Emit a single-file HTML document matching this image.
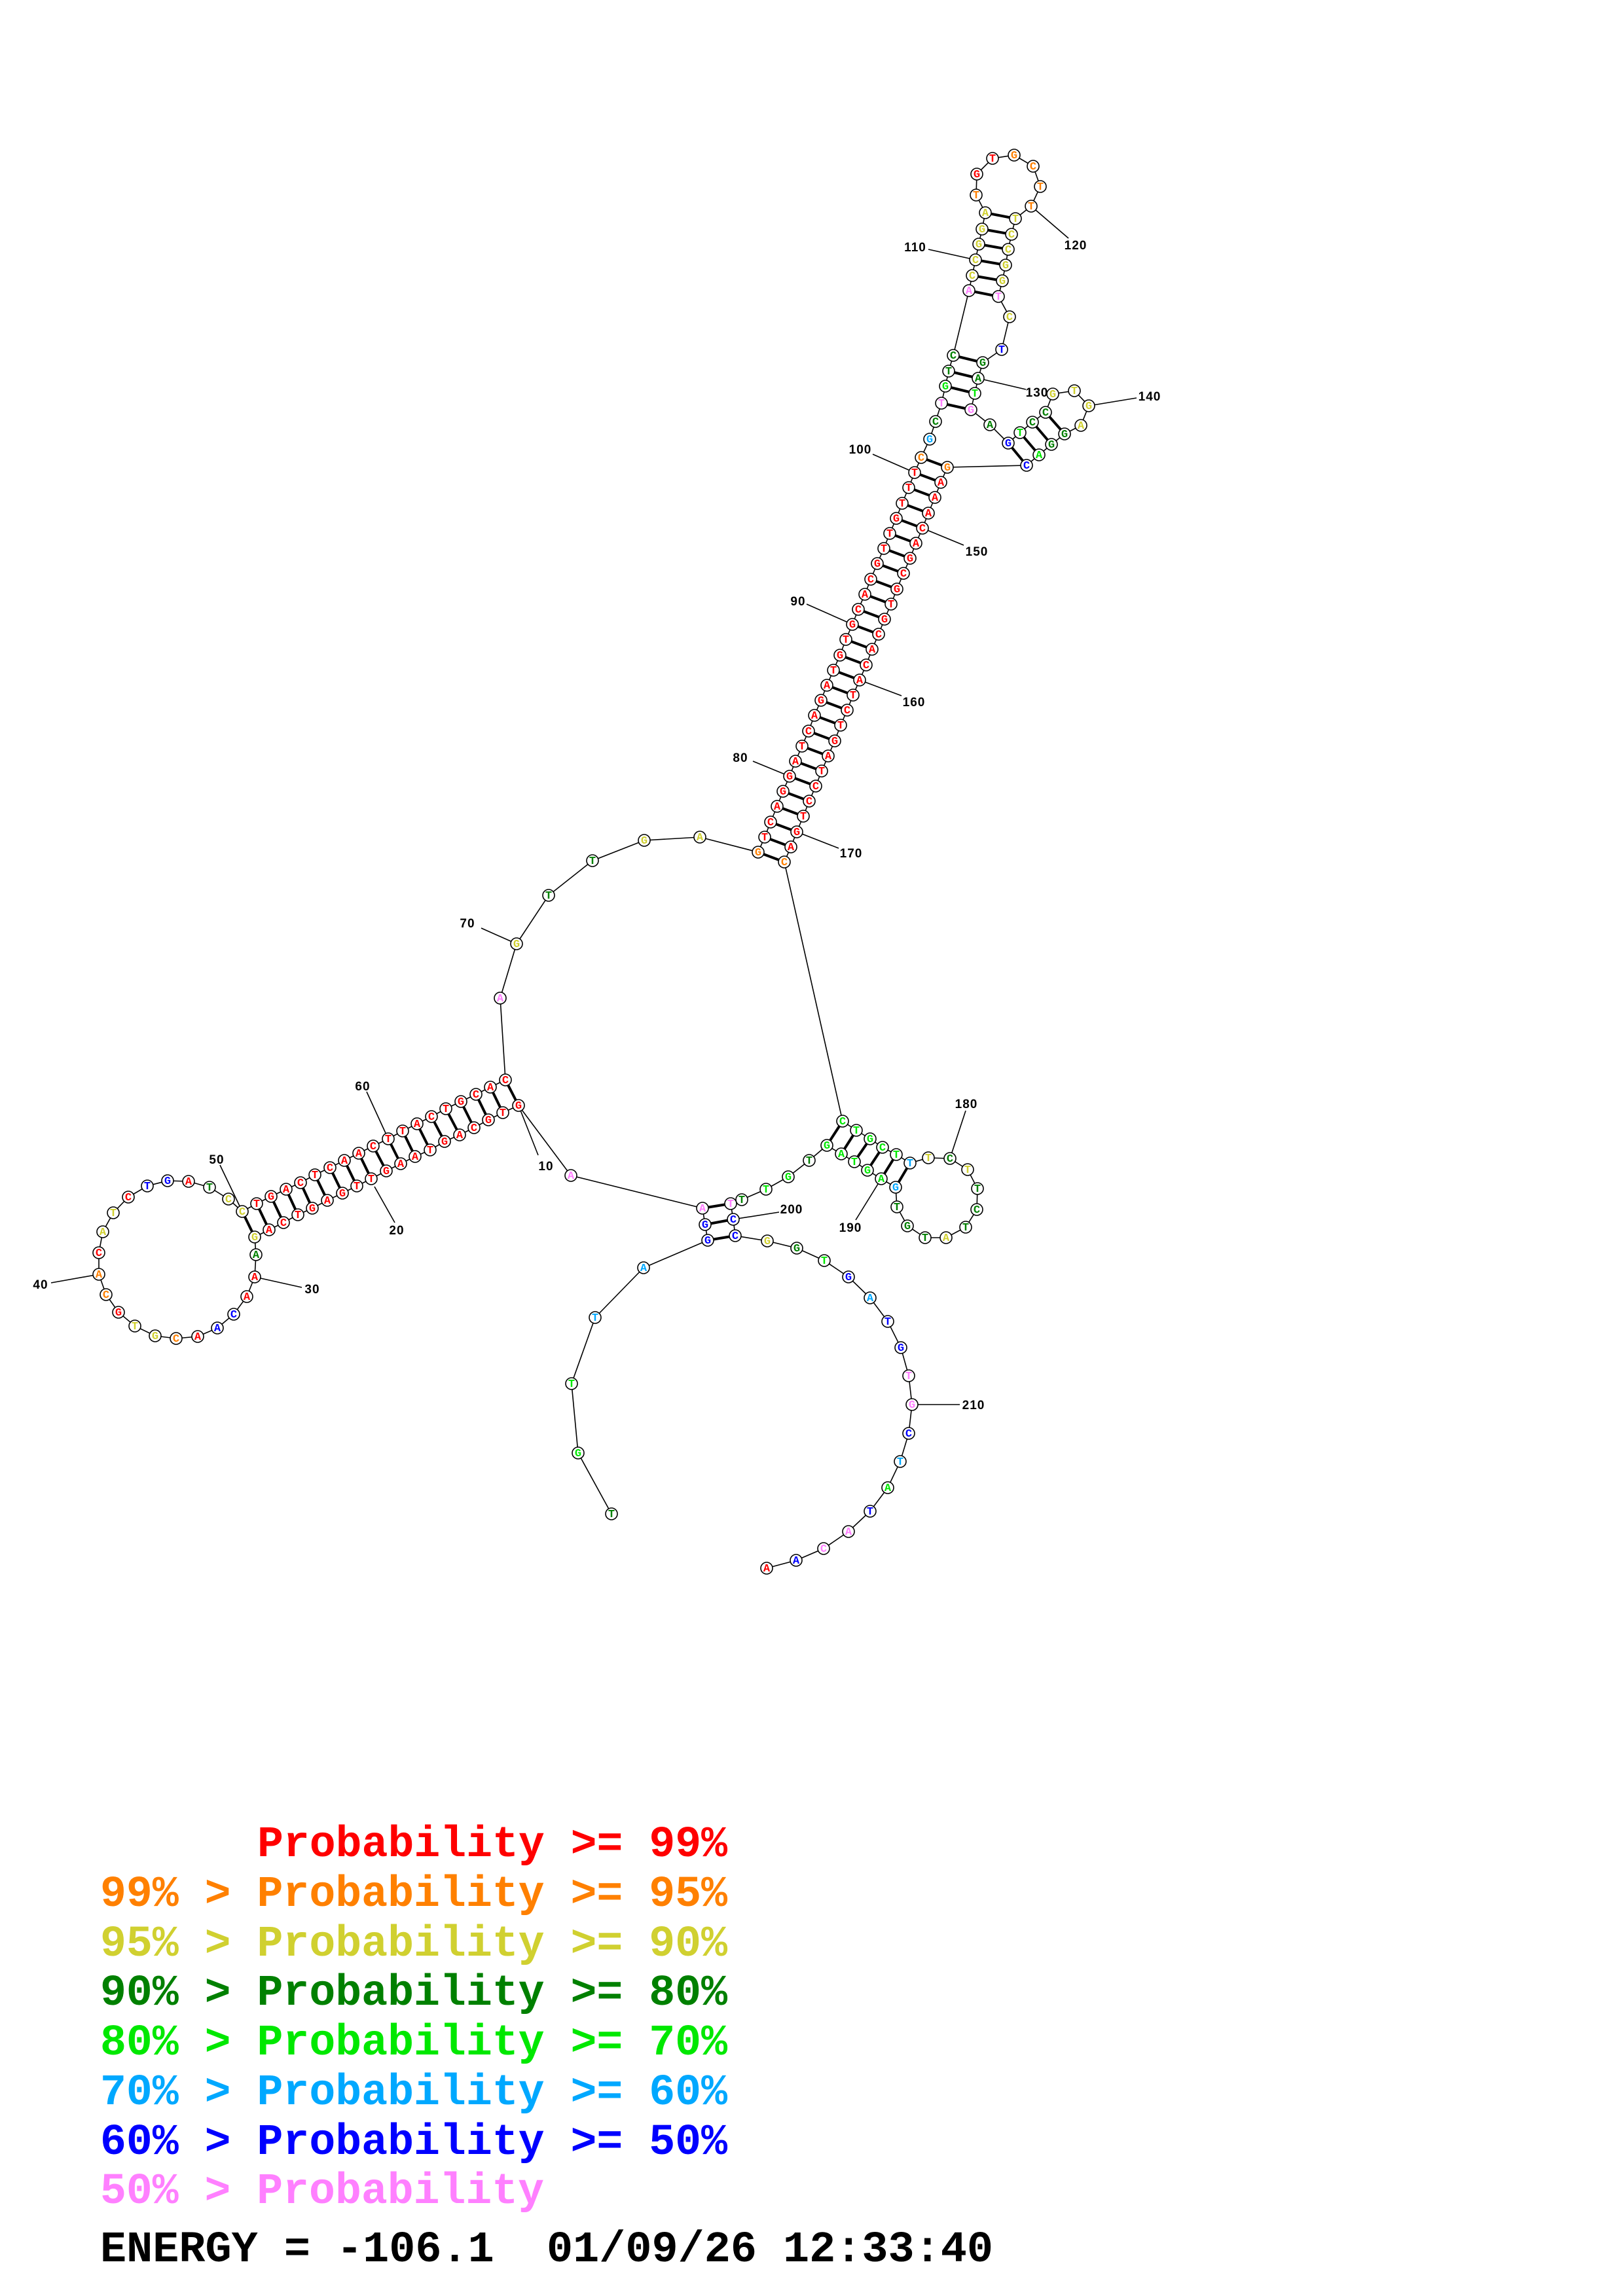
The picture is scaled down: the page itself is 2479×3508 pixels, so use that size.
<!DOCTYPE html>
<html><head><meta charset="utf-8"><style>
html,body{margin:0;padding:0;background:#fff}
svg{display:block}
circle{fill:#fff;stroke:#000;stroke-width:1.6}
.n text{font-family:"Liberation Mono",monospace;font-weight:bold;font-size:17px;text-anchor:middle}
.r{fill:#ff0000}.o{fill:#ff8000}.y{fill:#d0d030}.g{fill:#008000}.l{fill:#00e800}.c{fill:#00a8ff}.b{fill:#0000ff}.p{fill:#ff80ff}
.lab{font-family:"Liberation Sans",sans-serif;font-weight:bold;font-size:19px;text-anchor:middle;letter-spacing:1px}
.leg{font-family:"Liberation Mono",monospace;font-weight:bold;font-size:67px}
</style></head><body>
<svg width="2479" height="3508" viewBox="0 0 2479 3508" xmlns="http://www.w3.org/2000/svg">
<rect width="2479" height="3508" fill="#fff"/>
<polyline fill="none" stroke="#000" stroke-width="1.6" points="934,2313 883,2220 873,2114 909,2013 983,1937 1081,1895 1077,1871 1073,1846 872,1796 792,1689 768,1700 746,1711 724,1723 702,1734 679,1744 657,1757 634,1767 612,1778 590,1789 567,1801 545,1812 523,1823 500,1834 477,1846 455,1856 433,1868 411,1879 389,1890 391,1917 389,1951 377,1981 357,2008 332,2029 302,2042 269,2045 237,2041 206,2026 181,2005 162,1978 151,1947 151,1914 157,1882 173,1853 196,1829 225,1812 256,1804 288,1805 320,1814 349,1832 370,1851 392,1839 414,1828 437,1817 459,1807 481,1795 504,1784 526,1773 548,1762 570,1751 593,1740 615,1728 637,1717 659,1706 681,1694 704,1683 727,1672 749,1661 772,1650 764,1525 789,1442 838,1368 905,1315 984,1284 1069,1279 1158,1302 1168,1279 1177,1256 1187,1232 1196,1209 1206,1186 1215,1163 1225,1140 1235,1117 1244,1093 1254,1070 1263,1047 1273,1024 1283,1001 1292,977 1302,954 1311,931 1321,908 1330,885 1340,861 1350,838 1359,815 1369,792 1378,769 1388,745 1397,722 1407,699 1420,671 1429,644 1438,616 1444,590 1449,567 1456,543 1480,444 1485,421 1490,397 1495,373 1500,350 1505,325 1491,298 1492,266 1516,242 1549,237 1578,254 1589,285 1575,315 1551,334 1545,358 1540,381 1536,405 1531,429 1525,453 1542,484 1530,534 1501,554 1494,578 1489,601 1483,626 1512,649 1540,677 1558,661 1577,645 1597,630 1608,602 1641,597 1663,620 1651,650 1626,663 1606,679 1587,695 1568,711 1447,714 1437,737 1428,760 1418,784 1409,807 1399,830 1390,853 1380,876 1370,900 1361,923 1351,946 1342,969 1332,992 1323,1016 1313,1039 1303,1062 1294,1085 1284,1108 1275,1132 1265,1155 1255,1178 1246,1201 1236,1224 1227,1247 1217,1271 1208,1294 1198,1317 1287,1713 1308,1727 1329,1740 1348,1753 1369,1764 1390,1777 1418,1769 1451,1770 1478,1787 1493,1816 1492,1848 1475,1875 1445,1891 1413,1891 1386,1873 1370,1844 1368,1814 1346,1801 1325,1788 1305,1775 1285,1763 1263,1750 1236,1773 1204,1798 1170,1817 1133,1833 1116,1839 1120,1863 1123,1888 1172,1896 1217,1907 1259,1926 1296,1951 1329,1983 1356,2019 1376,2059 1388,2102 1393,2146 1388,2190 1375,2233 1356,2273 1329,2309 1296,2340 1258,2366 1216,2384 1171,2396"/>
<path fill="none" stroke="#000" stroke-width="4" d="M1081,1895L1123,1888M1077,1871L1120,1863M1073,1846L1116,1839
M792,1689L772,1650M768,1700L749,1661M746,1711L727,1672M724,1723L704,1683M702,1734L681,1694M679,1744L659,1706M657,1757L637,1717M634,1767L615,1728M612,1778L593,1740M590,1789L570,1751M567,1801L548,1762M545,1812L526,1773M523,1823L504,1784M500,1834L481,1795M477,1846L459,1807M455,1856L437,1817M433,1868L414,1828M411,1879L392,1839M389,1890L370,1851
M1158,1302L1198,1317M1168,1279L1208,1294M1177,1256L1217,1271M1187,1232L1227,1247M1196,1209L1236,1224M1206,1186L1246,1201M1215,1163L1255,1178M1225,1140L1265,1155M1235,1117L1275,1132M1244,1093L1284,1108M1254,1070L1294,1085M1263,1047L1303,1062M1273,1024L1313,1039M1283,1001L1323,1016M1292,977L1332,992M1302,954L1342,969M1311,931L1351,946M1321,908L1361,923M1330,885L1370,900M1340,861L1380,876M1350,838L1390,853M1359,815L1399,830M1369,792L1409,807M1378,769L1418,784M1388,745L1428,760M1397,722L1437,737M1407,699L1447,714
M1456,543L1501,554M1449,567L1494,578M1444,590L1489,601M1438,616L1483,626
M1480,444L1525,453M1485,421L1531,429M1490,397L1536,405M1495,373L1540,381M1500,350L1545,358M1505,325L1551,334
M1540,677L1568,711M1558,661L1587,695M1577,645L1606,679M1597,630L1626,663
M1287,1713L1263,1750M1308,1727L1285,1763M1329,1740L1305,1775M1348,1753L1325,1788M1369,1764L1346,1801M1390,1777L1368,1814"/>
<path fill="none" stroke="#000" stroke-width="1.6" d="M792,1689L822,1765M572,1813L603,1868M389,1951L461,1967M151,1947L78,1960M370,1851L336,1780M593,1740L560,1668M789,1442L735,1418M1206,1186L1150,1163M1302,954L1232,923M1397,722L1333,694M1490,397L1418,381M1575,315L1632,364M1494,578L1567,595M1663,620L1736,608M1409,807L1472,833M1313,1039L1377,1063M1217,1271L1281,1296M1451,1770L1475,1697M1346,1801L1307,1864M1120,1863L1190,1852M1393,2146L1466,2146"/>
<g class="lab">
<text x="834" y="1788">10</text><text x="606" y="1886">20</text><text x="477" y="1976">30</text><text x="62" y="1969">40</text><text x="331" y="1778">50</text><text x="554" y="1666">60</text><text x="714" y="1417">70</text><text x="1131" y="1164">80</text><text x="1219" y="925">90</text><text x="1314" y="693">100</text><text x="1398" y="384">110</text><text x="1643" y="381">120</text><text x="1584" y="606">130</text><text x="1756" y="612">140</text><text x="1492" y="849">150</text><text x="1396" y="1079">160</text><text x="1300" y="1310">170</text><text x="1476" y="1693">180</text><text x="1299" y="1882">190</text><text x="1209" y="1854">200</text><text x="1487" y="2153">210</text>
</g>
<g class="n">
<circle cx="934" cy="2313" r="9"/><text x="934" y="2318" class="g">T</text>
<circle cx="883" cy="2220" r="9"/><text x="883" y="2225" class="l">G</text>
<circle cx="873" cy="2114" r="9"/><text x="873" y="2119" class="l">T</text>
<circle cx="909" cy="2013" r="9"/><text x="909" y="2018" class="c">T</text>
<circle cx="983" cy="1937" r="9"/><text x="983" y="1942" class="c">A</text>
<circle cx="1081" cy="1895" r="9"/><text x="1081" y="1900" class="b">G</text>
<circle cx="1077" cy="1871" r="9"/><text x="1077" y="1876" class="b">G</text>
<circle cx="1073" cy="1846" r="9"/><text x="1073" y="1851" class="p">A</text>
<circle cx="872" cy="1796" r="9"/><text x="872" y="1801" class="p">A</text>
<circle cx="792" cy="1689" r="9"/><text x="792" y="1694" class="r">G</text>
<circle cx="768" cy="1700" r="9"/><text x="768" y="1705" class="r">T</text>
<circle cx="746" cy="1711" r="9"/><text x="746" y="1716" class="r">G</text>
<circle cx="724" cy="1723" r="9"/><text x="724" y="1728" class="r">C</text>
<circle cx="702" cy="1734" r="9"/><text x="702" y="1739" class="r">A</text>
<circle cx="679" cy="1744" r="9"/><text x="679" y="1749" class="r">G</text>
<circle cx="657" cy="1757" r="9"/><text x="657" y="1762" class="r">T</text>
<circle cx="634" cy="1767" r="9"/><text x="634" y="1772" class="r">A</text>
<circle cx="612" cy="1778" r="9"/><text x="612" y="1783" class="r">A</text>
<circle cx="590" cy="1789" r="9"/><text x="590" y="1794" class="r">G</text>
<circle cx="567" cy="1801" r="9"/><text x="567" y="1806" class="r">T</text>
<circle cx="545" cy="1812" r="9"/><text x="545" y="1817" class="r">T</text>
<circle cx="523" cy="1823" r="9"/><text x="523" y="1828" class="r">G</text>
<circle cx="500" cy="1834" r="9"/><text x="500" y="1839" class="r">A</text>
<circle cx="477" cy="1846" r="9"/><text x="477" y="1851" class="r">G</text>
<circle cx="455" cy="1856" r="9"/><text x="455" y="1861" class="r">T</text>
<circle cx="433" cy="1868" r="9"/><text x="433" y="1873" class="r">C</text>
<circle cx="411" cy="1879" r="9"/><text x="411" y="1884" class="r">A</text>
<circle cx="389" cy="1890" r="9"/><text x="389" y="1895" class="y">G</text>
<circle cx="391" cy="1917" r="9"/><text x="391" y="1922" class="g">A</text>
<circle cx="389" cy="1951" r="9"/><text x="389" y="1956" class="r">A</text>
<circle cx="377" cy="1981" r="9"/><text x="377" y="1986" class="r">A</text>
<circle cx="357" cy="2008" r="9"/><text x="357" y="2013" class="b">C</text>
<circle cx="332" cy="2029" r="9"/><text x="332" y="2034" class="b">A</text>
<circle cx="302" cy="2042" r="9"/><text x="302" y="2047" class="r">A</text>
<circle cx="269" cy="2045" r="9"/><text x="269" y="2050" class="o">C</text>
<circle cx="237" cy="2041" r="9"/><text x="237" y="2046" class="y">G</text>
<circle cx="206" cy="2026" r="9"/><text x="206" y="2031" class="y">T</text>
<circle cx="181" cy="2005" r="9"/><text x="181" y="2010" class="r">G</text>
<circle cx="162" cy="1978" r="9"/><text x="162" y="1983" class="o">C</text>
<circle cx="151" cy="1947" r="9"/><text x="151" y="1952" class="o">A</text>
<circle cx="151" cy="1914" r="9"/><text x="151" y="1919" class="r">C</text>
<circle cx="157" cy="1882" r="9"/><text x="157" y="1887" class="y">A</text>
<circle cx="173" cy="1853" r="9"/><text x="173" y="1858" class="y">T</text>
<circle cx="196" cy="1829" r="9"/><text x="196" y="1834" class="r">C</text>
<circle cx="225" cy="1812" r="9"/><text x="225" y="1817" class="b">T</text>
<circle cx="256" cy="1804" r="9"/><text x="256" y="1809" class="b">G</text>
<circle cx="288" cy="1805" r="9"/><text x="288" y="1810" class="r">A</text>
<circle cx="320" cy="1814" r="9"/><text x="320" y="1819" class="g">T</text>
<circle cx="349" cy="1832" r="9"/><text x="349" y="1837" class="y">C</text>
<circle cx="370" cy="1851" r="9"/><text x="370" y="1856" class="y">C</text>
<circle cx="392" cy="1839" r="9"/><text x="392" y="1844" class="r">T</text>
<circle cx="414" cy="1828" r="9"/><text x="414" y="1833" class="r">G</text>
<circle cx="437" cy="1817" r="9"/><text x="437" y="1822" class="r">A</text>
<circle cx="459" cy="1807" r="9"/><text x="459" y="1812" class="r">C</text>
<circle cx="481" cy="1795" r="9"/><text x="481" y="1800" class="r">T</text>
<circle cx="504" cy="1784" r="9"/><text x="504" y="1789" class="r">C</text>
<circle cx="526" cy="1773" r="9"/><text x="526" y="1778" class="r">A</text>
<circle cx="548" cy="1762" r="9"/><text x="548" y="1767" class="r">A</text>
<circle cx="570" cy="1751" r="9"/><text x="570" y="1756" class="r">C</text>
<circle cx="593" cy="1740" r="9"/><text x="593" y="1745" class="r">T</text>
<circle cx="615" cy="1728" r="9"/><text x="615" y="1733" class="r">T</text>
<circle cx="637" cy="1717" r="9"/><text x="637" y="1722" class="r">A</text>
<circle cx="659" cy="1706" r="9"/><text x="659" y="1711" class="r">C</text>
<circle cx="681" cy="1694" r="9"/><text x="681" y="1699" class="r">T</text>
<circle cx="704" cy="1683" r="9"/><text x="704" y="1688" class="r">G</text>
<circle cx="727" cy="1672" r="9"/><text x="727" y="1677" class="r">C</text>
<circle cx="749" cy="1661" r="9"/><text x="749" y="1666" class="r">A</text>
<circle cx="772" cy="1650" r="9"/><text x="772" y="1655" class="r">C</text>
<circle cx="764" cy="1525" r="9"/><text x="764" y="1530" class="p">A</text>
<circle cx="789" cy="1442" r="9"/><text x="789" y="1447" class="y">G</text>
<circle cx="838" cy="1368" r="9"/><text x="838" y="1373" class="g">T</text>
<circle cx="905" cy="1315" r="9"/><text x="905" y="1320" class="g">T</text>
<circle cx="984" cy="1284" r="9"/><text x="984" y="1289" class="y">G</text>
<circle cx="1069" cy="1279" r="9"/><text x="1069" y="1284" class="y">A</text>
<circle cx="1158" cy="1302" r="9"/><text x="1158" y="1307" class="o">G</text>
<circle cx="1168" cy="1279" r="9"/><text x="1168" y="1284" class="r">T</text>
<circle cx="1177" cy="1256" r="9"/><text x="1177" y="1261" class="r">C</text>
<circle cx="1187" cy="1232" r="9"/><text x="1187" y="1237" class="r">A</text>
<circle cx="1196" cy="1209" r="9"/><text x="1196" y="1214" class="r">G</text>
<circle cx="1206" cy="1186" r="9"/><text x="1206" y="1191" class="r">G</text>
<circle cx="1215" cy="1163" r="9"/><text x="1215" y="1168" class="r">A</text>
<circle cx="1225" cy="1140" r="9"/><text x="1225" y="1145" class="r">T</text>
<circle cx="1235" cy="1117" r="9"/><text x="1235" y="1122" class="r">C</text>
<circle cx="1244" cy="1093" r="9"/><text x="1244" y="1098" class="r">A</text>
<circle cx="1254" cy="1070" r="9"/><text x="1254" y="1075" class="r">G</text>
<circle cx="1263" cy="1047" r="9"/><text x="1263" y="1052" class="r">A</text>
<circle cx="1273" cy="1024" r="9"/><text x="1273" y="1029" class="r">T</text>
<circle cx="1283" cy="1001" r="9"/><text x="1283" y="1006" class="r">G</text>
<circle cx="1292" cy="977" r="9"/><text x="1292" y="982" class="r">T</text>
<circle cx="1302" cy="954" r="9"/><text x="1302" y="959" class="r">G</text>
<circle cx="1311" cy="931" r="9"/><text x="1311" y="936" class="r">C</text>
<circle cx="1321" cy="908" r="9"/><text x="1321" y="913" class="r">A</text>
<circle cx="1330" cy="885" r="9"/><text x="1330" y="890" class="r">C</text>
<circle cx="1340" cy="861" r="9"/><text x="1340" y="866" class="r">G</text>
<circle cx="1350" cy="838" r="9"/><text x="1350" y="843" class="r">T</text>
<circle cx="1359" cy="815" r="9"/><text x="1359" y="820" class="r">T</text>
<circle cx="1369" cy="792" r="9"/><text x="1369" y="797" class="r">G</text>
<circle cx="1378" cy="769" r="9"/><text x="1378" y="774" class="r">T</text>
<circle cx="1388" cy="745" r="9"/><text x="1388" y="750" class="r">T</text>
<circle cx="1397" cy="722" r="9"/><text x="1397" y="727" class="r">T</text>
<circle cx="1407" cy="699" r="9"/><text x="1407" y="704" class="o">C</text>
<circle cx="1420" cy="671" r="9"/><text x="1420" y="676" class="c">G</text>
<circle cx="1429" cy="644" r="9"/><text x="1429" y="649" class="g">C</text>
<circle cx="1438" cy="616" r="9"/><text x="1438" y="621" class="p">T</text>
<circle cx="1444" cy="590" r="9"/><text x="1444" y="595" class="l">G</text>
<circle cx="1449" cy="567" r="9"/><text x="1449" y="572" class="g">T</text>
<circle cx="1456" cy="543" r="9"/><text x="1456" y="548" class="g">C</text>
<circle cx="1480" cy="444" r="9"/><text x="1480" y="449" class="p">A</text>
<circle cx="1485" cy="421" r="9"/><text x="1485" y="426" class="y">C</text>
<circle cx="1490" cy="397" r="9"/><text x="1490" y="402" class="y">C</text>
<circle cx="1495" cy="373" r="9"/><text x="1495" y="378" class="y">G</text>
<circle cx="1500" cy="350" r="9"/><text x="1500" y="355" class="y">G</text>
<circle cx="1505" cy="325" r="9"/><text x="1505" y="330" class="y">A</text>
<circle cx="1491" cy="298" r="9"/><text x="1491" y="303" class="o">T</text>
<circle cx="1492" cy="266" r="9"/><text x="1492" y="271" class="r">G</text>
<circle cx="1516" cy="242" r="9"/><text x="1516" y="247" class="r">T</text>
<circle cx="1549" cy="237" r="9"/><text x="1549" y="242" class="o">G</text>
<circle cx="1578" cy="254" r="9"/><text x="1578" y="259" class="o">C</text>
<circle cx="1589" cy="285" r="9"/><text x="1589" y="290" class="o">T</text>
<circle cx="1575" cy="315" r="9"/><text x="1575" y="320" class="o">T</text>
<circle cx="1551" cy="334" r="9"/><text x="1551" y="339" class="y">T</text>
<circle cx="1545" cy="358" r="9"/><text x="1545" y="363" class="y">C</text>
<circle cx="1540" cy="381" r="9"/><text x="1540" y="386" class="y">C</text>
<circle cx="1536" cy="405" r="9"/><text x="1536" y="410" class="y">G</text>
<circle cx="1531" cy="429" r="9"/><text x="1531" y="434" class="y">G</text>
<circle cx="1525" cy="453" r="9"/><text x="1525" y="458" class="p">T</text>
<circle cx="1542" cy="484" r="9"/><text x="1542" y="489" class="y">C</text>
<circle cx="1530" cy="534" r="9"/><text x="1530" y="539" class="b">T</text>
<circle cx="1501" cy="554" r="9"/><text x="1501" y="559" class="g">G</text>
<circle cx="1494" cy="578" r="9"/><text x="1494" y="583" class="g">A</text>
<circle cx="1489" cy="601" r="9"/><text x="1489" y="606" class="l">T</text>
<circle cx="1483" cy="626" r="9"/><text x="1483" y="631" class="p">G</text>
<circle cx="1512" cy="649" r="9"/><text x="1512" y="654" class="g">A</text>
<circle cx="1540" cy="677" r="9"/><text x="1540" y="682" class="b">G</text>
<circle cx="1558" cy="661" r="9"/><text x="1558" y="666" class="l">T</text>
<circle cx="1577" cy="645" r="9"/><text x="1577" y="650" class="g">C</text>
<circle cx="1597" cy="630" r="9"/><text x="1597" y="635" class="g">C</text>
<circle cx="1608" cy="602" r="9"/><text x="1608" y="607" class="y">G</text>
<circle cx="1641" cy="597" r="9"/><text x="1641" y="602" class="y">T</text>
<circle cx="1663" cy="620" r="9"/><text x="1663" y="625" class="y">G</text>
<circle cx="1651" cy="650" r="9"/><text x="1651" y="655" class="y">A</text>
<circle cx="1626" cy="663" r="9"/><text x="1626" y="668" class="g">G</text>
<circle cx="1606" cy="679" r="9"/><text x="1606" y="684" class="g">G</text>
<circle cx="1587" cy="695" r="9"/><text x="1587" y="700" class="l">A</text>
<circle cx="1568" cy="711" r="9"/><text x="1568" y="716" class="b">C</text>
<circle cx="1447" cy="714" r="9"/><text x="1447" y="719" class="o">G</text>
<circle cx="1437" cy="737" r="9"/><text x="1437" y="742" class="r">A</text>
<circle cx="1428" cy="760" r="9"/><text x="1428" y="765" class="r">A</text>
<circle cx="1418" cy="784" r="9"/><text x="1418" y="789" class="r">A</text>
<circle cx="1409" cy="807" r="9"/><text x="1409" y="812" class="r">C</text>
<circle cx="1399" cy="830" r="9"/><text x="1399" y="835" class="r">A</text>
<circle cx="1390" cy="853" r="9"/><text x="1390" y="858" class="r">G</text>
<circle cx="1380" cy="876" r="9"/><text x="1380" y="881" class="r">C</text>
<circle cx="1370" cy="900" r="9"/><text x="1370" y="905" class="r">G</text>
<circle cx="1361" cy="923" r="9"/><text x="1361" y="928" class="r">T</text>
<circle cx="1351" cy="946" r="9"/><text x="1351" y="951" class="r">G</text>
<circle cx="1342" cy="969" r="9"/><text x="1342" y="974" class="r">C</text>
<circle cx="1332" cy="992" r="9"/><text x="1332" y="997" class="r">A</text>
<circle cx="1323" cy="1016" r="9"/><text x="1323" y="1021" class="r">C</text>
<circle cx="1313" cy="1039" r="9"/><text x="1313" y="1044" class="r">A</text>
<circle cx="1303" cy="1062" r="9"/><text x="1303" y="1067" class="r">T</text>
<circle cx="1294" cy="1085" r="9"/><text x="1294" y="1090" class="r">C</text>
<circle cx="1284" cy="1108" r="9"/><text x="1284" y="1113" class="r">T</text>
<circle cx="1275" cy="1132" r="9"/><text x="1275" y="1137" class="r">G</text>
<circle cx="1265" cy="1155" r="9"/><text x="1265" y="1160" class="r">A</text>
<circle cx="1255" cy="1178" r="9"/><text x="1255" y="1183" class="r">T</text>
<circle cx="1246" cy="1201" r="9"/><text x="1246" y="1206" class="r">C</text>
<circle cx="1236" cy="1224" r="9"/><text x="1236" y="1229" class="r">C</text>
<circle cx="1227" cy="1247" r="9"/><text x="1227" y="1252" class="r">T</text>
<circle cx="1217" cy="1271" r="9"/><text x="1217" y="1276" class="r">G</text>
<circle cx="1208" cy="1294" r="9"/><text x="1208" y="1299" class="r">A</text>
<circle cx="1198" cy="1317" r="9"/><text x="1198" y="1322" class="o">C</text>
<circle cx="1287" cy="1713" r="9"/><text x="1287" y="1718" class="l">C</text>
<circle cx="1308" cy="1727" r="9"/><text x="1308" y="1732" class="l">T</text>
<circle cx="1329" cy="1740" r="9"/><text x="1329" y="1745" class="l">G</text>
<circle cx="1348" cy="1753" r="9"/><text x="1348" y="1758" class="l">C</text>
<circle cx="1369" cy="1764" r="9"/><text x="1369" y="1769" class="l">T</text>
<circle cx="1390" cy="1777" r="9"/><text x="1390" y="1782" class="c">T</text>
<circle cx="1418" cy="1769" r="9"/><text x="1418" y="1774" class="y">T</text>
<circle cx="1451" cy="1770" r="9"/><text x="1451" y="1775" class="g">C</text>
<circle cx="1478" cy="1787" r="9"/><text x="1478" y="1792" class="y">T</text>
<circle cx="1493" cy="1816" r="9"/><text x="1493" y="1821" class="g">T</text>
<circle cx="1492" cy="1848" r="9"/><text x="1492" y="1853" class="g">C</text>
<circle cx="1475" cy="1875" r="9"/><text x="1475" y="1880" class="g">T</text>
<circle cx="1445" cy="1891" r="9"/><text x="1445" y="1896" class="y">A</text>
<circle cx="1413" cy="1891" r="9"/><text x="1413" y="1896" class="g">T</text>
<circle cx="1386" cy="1873" r="9"/><text x="1386" y="1878" class="g">G</text>
<circle cx="1370" cy="1844" r="9"/><text x="1370" y="1849" class="g">T</text>
<circle cx="1368" cy="1814" r="9"/><text x="1368" y="1819" class="c">G</text>
<circle cx="1346" cy="1801" r="9"/><text x="1346" y="1806" class="l">A</text>
<circle cx="1325" cy="1788" r="9"/><text x="1325" y="1793" class="l">G</text>
<circle cx="1305" cy="1775" r="9"/><text x="1305" y="1780" class="l">T</text>
<circle cx="1285" cy="1763" r="9"/><text x="1285" y="1768" class="l">A</text>
<circle cx="1263" cy="1750" r="9"/><text x="1263" y="1755" class="l">G</text>
<circle cx="1236" cy="1773" r="9"/><text x="1236" y="1778" class="g">T</text>
<circle cx="1204" cy="1798" r="9"/><text x="1204" y="1803" class="l">G</text>
<circle cx="1170" cy="1817" r="9"/><text x="1170" y="1822" class="l">T</text>
<circle cx="1133" cy="1833" r="9"/><text x="1133" y="1838" class="g">T</text>
<circle cx="1116" cy="1839" r="9"/><text x="1116" y="1844" class="p">T</text>
<circle cx="1120" cy="1863" r="9"/><text x="1120" y="1868" class="b">C</text>
<circle cx="1123" cy="1888" r="9"/><text x="1123" y="1893" class="b">C</text>
<circle cx="1172" cy="1896" r="9"/><text x="1172" y="1901" class="y">G</text>
<circle cx="1217" cy="1907" r="9"/><text x="1217" y="1912" class="g">G</text>
<circle cx="1259" cy="1926" r="9"/><text x="1259" y="1931" class="l">T</text>
<circle cx="1296" cy="1951" r="9"/><text x="1296" y="1956" class="b">G</text>
<circle cx="1329" cy="1983" r="9"/><text x="1329" y="1988" class="c">A</text>
<circle cx="1356" cy="2019" r="9"/><text x="1356" y="2024" class="b">T</text>
<circle cx="1376" cy="2059" r="9"/><text x="1376" y="2064" class="b">G</text>
<circle cx="1388" cy="2102" r="9"/><text x="1388" y="2107" class="p">T</text>
<circle cx="1393" cy="2146" r="9"/><text x="1393" y="2151" class="p">G</text>
<circle cx="1388" cy="2190" r="9"/><text x="1388" y="2195" class="b">C</text>
<circle cx="1375" cy="2233" r="9"/><text x="1375" y="2238" class="c">T</text>
<circle cx="1356" cy="2273" r="9"/><text x="1356" y="2278" class="l">A</text>
<circle cx="1329" cy="2309" r="9"/><text x="1329" y="2314" class="b">T</text>
<circle cx="1296" cy="2340" r="9"/><text x="1296" y="2345" class="p">A</text>
<circle cx="1258" cy="2366" r="9"/><text x="1258" y="2371" class="p">C</text>
<circle cx="1216" cy="2384" r="9"/><text x="1216" y="2389" class="b">A</text>
<circle cx="1171" cy="2396" r="9"/><text x="1171" y="2401" class="r">A</text>
</g>
<g class="leg">
<text x="393" y="2836" class="r" textLength="718" lengthAdjust="spacingAndGlyphs">Probability &gt;= 99%</text>
<text x="153" y="2912" class="o" textLength="958" lengthAdjust="spacingAndGlyphs">99% &gt; Probability &gt;= 95%</text>
<text x="153" y="2988" class="y" textLength="958" lengthAdjust="spacingAndGlyphs">95% &gt; Probability &gt;= 90%</text>
<text x="153" y="3063" class="g" textLength="958" lengthAdjust="spacingAndGlyphs">90% &gt; Probability &gt;= 80%</text>
<text x="153" y="3139" class="l" textLength="958" lengthAdjust="spacingAndGlyphs">80% &gt; Probability &gt;= 70%</text>
<text x="153" y="3215" class="c" textLength="958" lengthAdjust="spacingAndGlyphs">70% &gt; Probability &gt;= 60%</text>
<text x="153" y="3291" class="b" textLength="958" lengthAdjust="spacingAndGlyphs">60% &gt; Probability &gt;= 50%</text>
<text x="153" y="3366" class="p" textLength="678" lengthAdjust="spacingAndGlyphs">50% &gt; Probability</text>
<text x="153" y="3455" fill="#000" textLength="1364" lengthAdjust="spacingAndGlyphs" xml:space="preserve">ENERGY = -106.1  01/09/26 12:33:40</text>
</g>
</svg>
</body></html>
